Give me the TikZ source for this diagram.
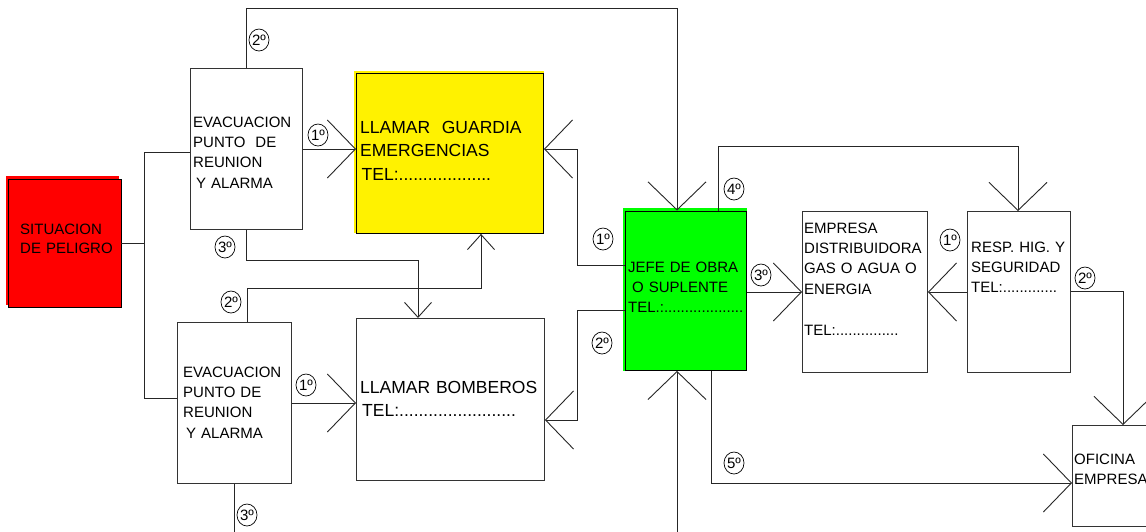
\documentclass[tikz,border=0pt]{standalone}
\usepackage{fontspec}
\setmainfont{Liberation Sans}
\usetikzlibrary{arrows.meta,shapes.geometric,calc}
\begin{document}
\begin{tikzpicture}[x=1pt,y=-1pt,
  box/.style={draw=black!80, line width=0.9pt, inner sep=0pt, anchor=north west},
  txt/.style={anchor=base west, inner sep=0pt, text width=#1, align=left, font=\fontsize{15}{20.4}\selectfont},
  bigtxt/.style={anchor=base west, inner sep=0pt, text width=#1, align=left, font=\fontsize{17.5}{23.5}\selectfont},
  ord/.style={ellipse, draw=black, line width=0.7pt, minimum width=20pt, minimum height=22pt, inner sep=0pt, font=\fontsize{15}{15}\selectfont},
  link/.style={draw=black!85, line width=0.9pt},
  bigarrow/.style={link, -{Straight Barb[length=28pt, width=58pt, line width=0.9pt]}},
  smallarrow/.style={link, -{Straight Barb[length=15pt, width=27pt, line width=0.9pt]}}
]
\useasboundingbox (0,0) rectangle (1146,531);
\fill[white] (0,0) rectangle (1146,531);

% coloured under-layers
\fill[red] (6,176) rectangle (119,305);
\fill[yellow] (354,71) rectangle (544,233);
\fill[green] (623,208) rectangle (747,371);

% boxes
\node[box, fill=red, draw=black, minimum width=113pt, minimum height=128pt] (sit) at (7.5,178.5) {};
\node[box, minimum width=112pt, minimum height=161pt] (e1) at (190,68) {};
\node[box, fill=yellow, draw=black, minimum width=187pt, minimum height=160.5pt] (guard) at (356,72.5) {};
\node[box, minimum width=114pt, minimum height=161pt] (e2) at (177,322) {};
\node[box, minimum width=188pt, minimum height=162pt] (bomb) at (356,318) {};
\node[box, fill=green, draw=black, minimum width=121pt, minimum height=159.5pt] (jefe) at (625,210.5) {};
\node[box, minimum width=125pt, minimum height=161pt] (emp) at (802,211) {};
\node[box, minimum width=103pt, minimum height=161pt] (resp) at (967,211) {};
\node[box, minimum width=90pt, minimum height=101pt] (ofi) at (1072,425) {};

% texts
\node[txt=100pt, font=\fontsize{15}{19}\selectfont] (sitt) at (20,234) {SITUACION\\DE PELIGRO};
\node[txt=110pt] (e1t) at (193,127) {EVACUACION\\PUNTO\ \ DE\\REUNION\\\hspace*{3pt}Y ALARMA};
\node[bigtxt=185pt] (guardt) at (360,133) {LLAMAR\ \ GUARDIA\\EMERGENCIAS\\\hspace*{1.5pt}TEL:...................};
\node[txt=110pt] (e2t) at (183,377) {EVACUACION\\PUNTO DE\\REUNION\\\hspace*{3pt}Y ALARMA};
\node[bigtxt=185pt, font=\fontsize{17.5}{23}\selectfont] (bombt) at (360,393) {LLAMAR BOMBEROS\\\hspace*{2pt}TEL:........................};
\node[txt=120pt] (jefet) at (628,272) {JEFE DE OBRA\\\hspace*{4pt}O SUPLENTE\\TEL.:...................};
\node[txt=125pt] (empt) at (804,233) {EMPRESA\\DISTRIBUIDORA\\GAS O AGUA O\\ENERGIA\\[20.4pt]TEL:...............};
\node[txt=100pt] (respt) at (971,252) {RESP. HIG. Y\\SEGURIDAD\\TEL:.............};
\node[txt=80pt] (ofit) at (1074,464) {OFICINA\\EMPRESA};

% helper coordinates
\coordinate (bt) at (144,152);
\coordinate (bb) at (144,398);
\coordinate (t1) at (246,8);
\coordinate (t2) at (677,8);
\coordinate (r1a) at (246,260);
\coordinate (r1) at (418,260);
\coordinate (r2a) at (247,288);
\coordinate (r2) at (481,288);
\coordinate (e2d) at (234,540);
\coordinate (j1) at (577,265);
\coordinate (j1b) at (577,149);
\coordinate (j2) at (577,310);
\coordinate (j2b) at (577,420);
\coordinate (jb) at (677,540);
\coordinate (k1) at (718,146);
\coordinate (k2) at (1018,146);
\coordinate (m) at (775,292);
\coordinate (n) at (1123,291);
\coordinate (p) at (711,483);

% connectors
\draw[link] (sit.east) -- (sit.east -| bt);
\draw[link] (bt) -- (bb);
\draw[link] (bt) -- (bt -| e1.west);
\draw[link] (bb) -- (bb -| e2.west);
\draw[bigarrow] (e1.east |- 0,149) -- (guard.west |- 0,149);
\draw[bigarrow] (e1.north -| t1) -- (t1) -- (t2) -- (t2 |- jefe.north);
\draw[smallarrow] (e1.south -| r1a) -- (r1a) -- (r1) -- (r1 |- bomb.north);
\draw[smallarrow] (e2.north -| r2a) -- (r2a) -- (r2) -- (r2 |- guard.south);
\draw[bigarrow] (e2.east |- 0,403) -- (bomb.west |- 0,403);
\draw[link] (e2.south -| e2d) -- (e2d);
\draw[bigarrow] (jefe.west |- j1) -- (j1) -- (j1b) -- (j1b -| guard.east);
\draw[bigarrow] (jefe.west |- j2) -- (j2) -- (j2b) -- (j2b -| bomb.east);
\draw[bigarrow] (jb) -- (jb |- jefe.south);
\draw[bigarrow] (jefe.north -| k1) -- (k1) -- (k2) -- (k2 |- resp.north);
\draw[bigarrow] (jefe.east |- m) -- (m -| emp.west);
\draw[bigarrow] (resp.west |- m) -- (m -| emp.east);
\draw[bigarrow] (resp.east |- n) -- (n) -- (n |- ofi.north);
\draw[bigarrow] (jefe.south -| p) -- (p) -- (p -| ofi.west);

% order labels
\node[ord] (o1) at (318,135) {1º};
\node[ord] (o2) at (259,40) {2º};
\node[ord] (o3) at (225,247) {3º};
\node[ord] (o4) at (231,302) {2º};
\node[ord] (o5) at (306,385) {1º};
\node[ord] (o6) at (247,515) {3º};
\node[ord] (o7) at (603,239) {1º};
\node[ord] (o8) at (602,343) {2º};
\node[ord] (o9) at (761,275) {3º};
\node[ord] (o10) at (734,189) {4º};
\node[ord] (o11) at (950,240) {1º};
\node[ord] (o12) at (1085,278) {2º};
\node[ord] (o13) at (734,463) {5º};
\end{tikzpicture}
\end{document}
